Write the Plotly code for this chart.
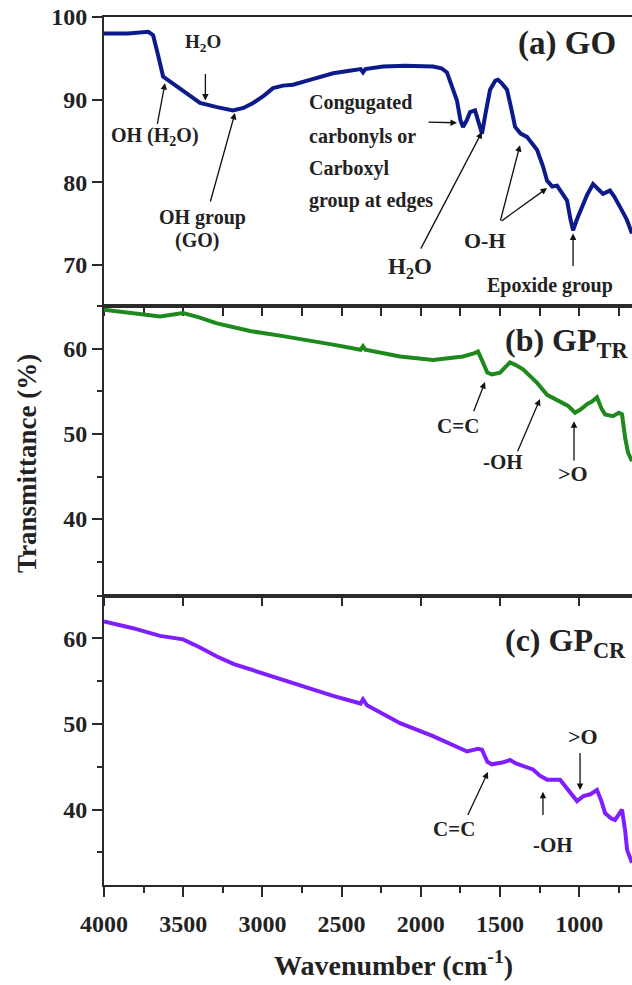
import plotly.graph_objects as go
from plotly.subplots import make_subplots

# ---------------- data ----------------
go_wn = [4000, 3850, 3720, 3690, 3660, 3627, 3540, 3470, 3394, 3287, 3186, 3120, 3059, 2990,
         2933, 2870, 2807, 2700, 2600, 2554, 2450, 2380, 2365, 2350, 2239, 2100, 1923, 1870,
         1835, 1800, 1772, 1750, 1734, 1710, 1689, 1658, 1635, 1614, 1590, 1563, 1530, 1513,
         1490, 1456, 1430, 1405, 1370, 1330, 1266, 1230, 1203, 1170, 1140, 1110, 1077, 1055,
         1039, 1015, 982, 950, 913, 880, 850, 806, 780, 742, 700, 667]
go_T = [98.0, 98.0, 98.2, 97.8, 95.5, 92.8, 91.6, 90.6, 89.6, 89.1, 88.7, 89.0, 89.6, 90.5,
        91.4, 91.7, 91.8, 92.4, 92.9, 93.2, 93.5, 93.7, 93.3, 93.7, 94.0, 94.1, 94.0, 93.8,
        93.3, 91.5, 89.9, 87.5, 86.7, 87.5, 88.5, 88.7, 87.0, 85.9, 88.5, 91.2, 92.3, 92.4,
        92.0, 91.2, 89.0, 86.7, 85.9, 85.5, 83.9, 82.0, 80.2, 79.5, 79.6, 78.8, 77.8, 75.5,
        74.2, 75.5, 77.0, 78.5, 79.8, 79.2, 78.6, 79.0, 78.3, 77.0, 75.5, 73.8]

gptr_wn = [4000, 3900, 3817, 3646, 3501, 3400, 3287, 3180, 3078, 2870, 2700, 2554, 2380, 2365,
           2350, 2131, 1923, 1800, 1734, 1660, 1639, 1610, 1580, 1551, 1500, 1470, 1437, 1400,
           1355, 1310, 1266, 1203, 1160, 1121, 1070, 1027, 990, 951, 920, 888, 860, 837, 787,
           750, 730, 710, 692, 667]
gptr_T = [64.6, 64.4, 64.2, 63.8, 64.2, 63.7, 63.0, 62.5, 62.1, 61.5, 61.0, 60.5, 59.9, 60.3,
          59.9, 59.1, 58.7, 58.9, 59.1, 59.5, 59.7, 58.5, 57.2, 57.0, 57.2, 57.8, 58.4, 58.1,
          57.6, 56.8, 56.0, 54.6, 54.2, 53.9, 53.3, 52.5, 52.9, 53.5, 53.8, 54.3, 53.0, 52.3,
          52.1, 52.5, 52.3, 49.5, 47.8, 46.8]

gpcr_wn = [4000, 3817, 3646, 3501, 3400, 3287, 3180, 3078, 2870, 2700, 2554, 2380, 2365, 2340,
           2131, 1923, 1708, 1640, 1614, 1580, 1551, 1487, 1437, 1400, 1355, 1292, 1250, 1203,
           1121, 1070, 1014, 973, 930, 888, 860, 837, 800, 774, 750, 730, 710, 698, 667]
gpcr_T = [62.0, 61.2, 60.3, 59.9, 59.0, 57.9, 57.0, 56.4, 55.2, 54.2, 53.3, 52.4, 52.9, 52.2,
          50.1, 48.6, 46.8, 47.1, 47.0, 45.6, 45.3, 45.5, 45.8, 45.4, 45.1, 44.7, 44.0, 43.5,
          43.5, 42.3, 41.0, 41.6, 41.8, 42.3, 41.0, 39.6, 39.0, 38.8, 39.5, 40.0, 37.5, 35.3, 33.8]

x_ticks = [4000, 3500, 3000, 2500, 2000, 1500, 1000]
panel_labels = ["(a) GO", "(b) GP<sub>TR</sub>", "(c) GP<sub>CR</sub>"]
colors = ["#0d1a8c", "#1e8a1e", "#7f1fff"]

FONT = "Liberation Serif"
AX = "#2a2a2a"

fig = make_subplots(rows=3, cols=1, shared_xaxes=True, vertical_spacing=0)

fig.add_trace(go.Scatter(x=go_wn, y=go_T, mode="lines", line=dict(color=colors[0], width=4)), row=1, col=1)
fig.add_trace(go.Scatter(x=gptr_wn, y=gptr_T, mode="lines", line=dict(color=colors[1], width=4)), row=2, col=1)
fig.add_trace(go.Scatter(x=gpcr_wn, y=gpcr_T, mode="lines", line=dict(color=colors[2], width=4)), row=3, col=1)

xrange = [4000, 667]
common_x = dict(range=xrange, showline=True, linecolor=AX, linewidth=2, mirror=True,
                showgrid=False, zeroline=False, tickvals=x_ticks, tickcolor=AX, tickwidth=2)
fig.update_xaxes(**common_x, ticks="outside", ticklen=8, showticklabels=False,
                 minor=dict(dtick=250, tick0=0, ticks="outside", ticklen=8, tickwidth=2, tickcolor=AX),
                 row=1, col=1)
fig.update_xaxes(**common_x, ticks="outside", ticklen=8, showticklabels=False, row=2, col=1)
fig.update_xaxes(**common_x, ticks="outside", ticklen=10, showticklabels=True, ticklabelstandoff=6,
                 tickfont=dict(family=FONT, size=24, color="#222", weight="bold"),
                 minor=dict(dtick=250, tick0=0, ticks="outside", ticklen=6, tickwidth=2, tickcolor=AX),
                 row=3, col=1)

common_y = dict(showline=True, linecolor=AX, linewidth=2, showgrid=False, zeroline=False,
                ticks="outside", ticklen=10, tickwidth=2, tickcolor=AX, dtick=10,
                tickfont=dict(family=FONT, size=24, color="#222", weight="bold"))
fig.update_yaxes(**common_y, range=[65, 100], tick0=0, row=1, col=1)
fig.update_yaxes(**common_y, range=[31, 65], tick0=0,
                 minor=dict(dtick=5, ticks="outside", ticklen=5, tickwidth=2, tickcolor=AX), row=2, col=1)
fig.update_yaxes(**common_y, range=[31.2, 65], tick0=0,
                 minor=dict(dtick=5, ticks="outside", ticklen=5, tickwidth=2, tickcolor=AX), row=3, col=1)

anns = []

def txt(text, x, y, ref, size=19, xanchor="center"):
    anns.append(dict(text=text, x=x, y=y, xref="x" + ref, yref="y" + ref, showarrow=False,
                     xanchor=xanchor, yanchor="middle",
                     font=dict(family=FONT, size=size, color="#222", weight="bold")))

def arr(x, y, ax, ay, ref):
    anns.append(dict(text="", x=x, y=y, ax=ax, ay=ay, xref="x" + ref, yref="y" + ref,
                     axref="x" + ref, ayref="y" + ref, showarrow=True, arrowhead=2,
                     arrowsize=1, arrowwidth=1.3, arrowcolor="#111"))

# panel a
r = ""
txt(panel_labels[0], 1077, 96.8, r, size=33)
txt("H<sub>2</sub>O", 3375, 96.8, r, size=19)
arr(3360, 89.9, 3360, 93.3, r)
txt("OH (H<sub>2</sub>O)", 3678, 85.5, r, size=20)
arr(3615, 92.0, 3665, 86.9, r)
txt("OH group", 3381, 75.8, r, size=20)
txt("(GO)", 3413, 73.0, r, size=20)
arr(3173, 88.4, 3331, 77.5, r)
txt("Congugated", 2718, 89.7, r, size=20, xanchor="left")
txt("carbonyls or", 2718, 85.5, r, size=20, xanchor="left")
txt("Carboxyl", 2718, 81.7, r, size=20, xanchor="left")
txt("group at edges", 2718, 77.8, r, size=20, xanchor="left")
arr(1772, 87.2, 1961, 87.3, r)
txt("H<sub>2</sub>O", 2068, 69.6, r, size=23)
arr(1614, 86.1, 2005, 71.8, r)
txt("O-H", 1595, 73.0, r, size=22)
arr(1374, 84.5, 1500, 75.2, r)
arr(1203, 79.3, 1500, 75.2, r)
txt("Epoxide group", 1184, 67.5, r, size=20)
arr(1039, 73.8, 1039, 69.7, r)

# panel b
r = "2"
txt(panel_labels[1], 1480, 60.7, r, size=32, xanchor="left")
txt("C=C", 1765, 50.9, r, size=21)
arr(1595, 56.1, 1670, 52.5, r)
txt("-OH", 1481, 46.7, r, size=21)
arr(1248, 54.1, 1393, 47.8, r)
txt("&gt;O", 1039, 45.3, r, size=22)
arr(1033, 51.5, 1033, 46.7, r)

# panel c
r = "3"
txt(panel_labels[2], 1480, 59.5, r, size=32, xanchor="left")
txt("C=C", 1790, 37.7, r, size=21)
arr(1576, 44.4, 1708, 39.2, r)
txt("-OH", 1165, 35.9, r, size=21)
arr(1229, 42.1, 1229, 39.2, r)
txt("&gt;O", 976, 48.5, r, size=22)
arr(995, 42.3, 995, 46.8, r)

# axis titles
anns.append(dict(text="Transmittance (%)", x=-0.146, y=0.486, xref="paper", yref="paper",
                 textangle=-90, showarrow=False, xanchor="center", yanchor="middle",
                 font=dict(family=FONT, size=27, color="#222", weight="bold")))
anns.append(dict(text="Wavenumber (cm<sup>-1</sup>)", x=0.549, y=-0.0899, xref="paper", yref="paper",
                 showarrow=False, xanchor="center", yanchor="middle",
                 font=dict(family=FONT, size=28, color="#222", weight="bold")))

fig.update_layout(width=632, height=985, margin=dict(l=104, r=0, t=17, b=100),
                  paper_bgcolor="white", plot_bgcolor="white", showlegend=False,
                  annotations=anns)

fig.write_html("out.html", config={"displayModeBar": False},
               post_script="document.body.style.margin='0';document.body.style.overflow='hidden';")
